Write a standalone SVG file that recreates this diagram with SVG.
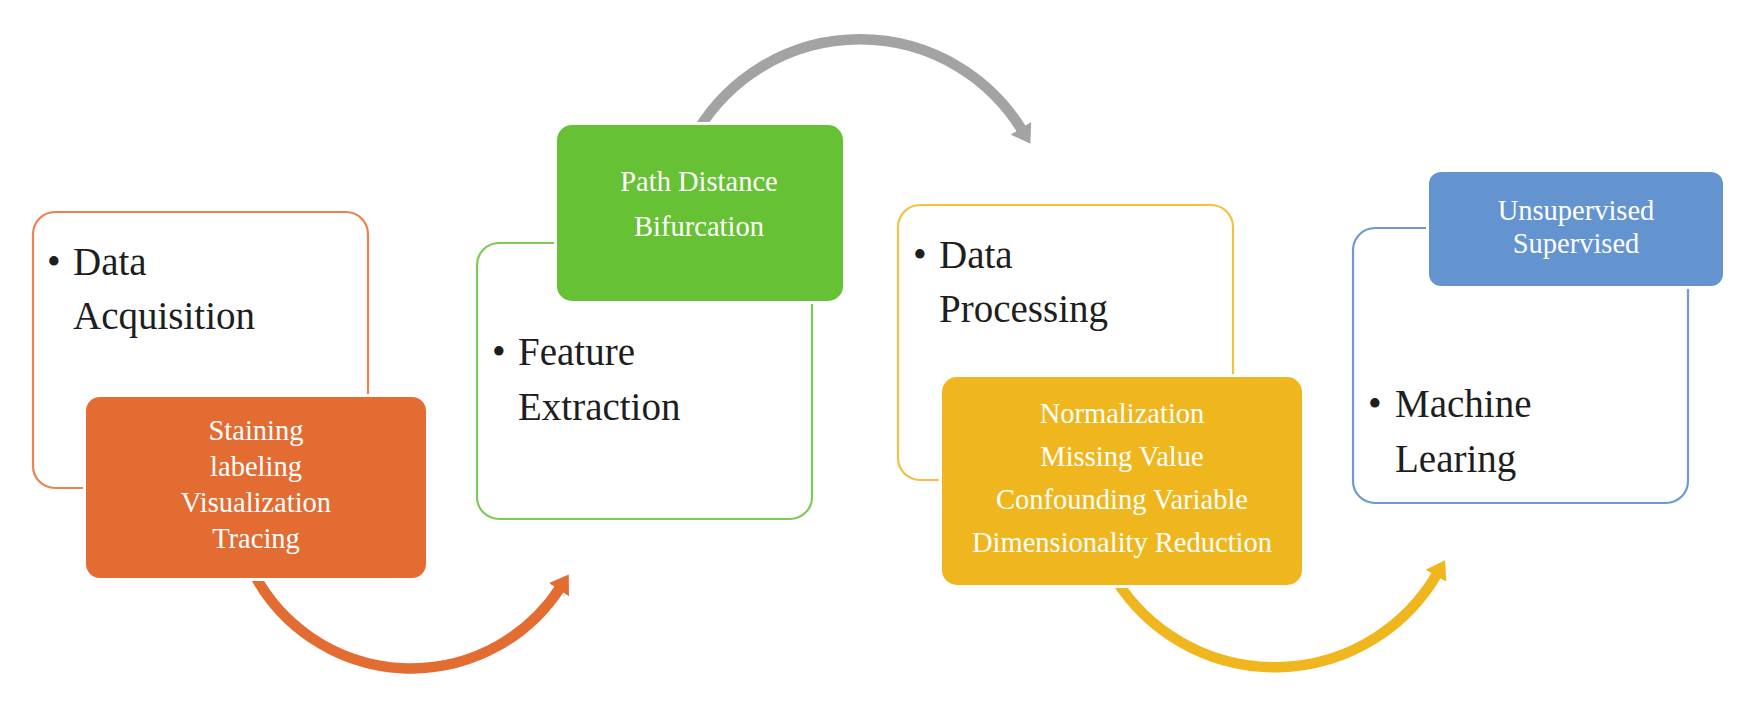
<svg xmlns="http://www.w3.org/2000/svg" width="1750" height="710" viewBox="0 0 1750 710">
  <style>
    .outline { fill: #ffffff; stroke-width: 2.2; }
    .fillbox { stroke: #ffffff; stroke-width: 6; paint-order: stroke; }
    .main { font-family: "Liberation Serif", "Times New Roman", serif; font-size: 39px; fill: #1e1e1e; }
    .sub { font-family: "Liberation Serif", "Times New Roman", serif; font-size: 28.5px; fill: #ffffff; text-anchor: middle; }
    .arc { fill: none; stroke-width: 10.5; }
  </style>
  <defs>
    <marker id="ah-orange" viewBox="0 0 18 24" refX="2" refY="12" markerWidth="18" markerHeight="24" markerUnits="userSpaceOnUse" orient="auto">
      <path d="M0,0 L18,12 L0,24 Z" fill="#E36C32"/>
    </marker>
    <marker id="ah-grey" viewBox="0 0 18 24" refX="2" refY="12" markerWidth="18" markerHeight="24" markerUnits="userSpaceOnUse" orient="auto">
      <path d="M0,0 L18,12 L0,24 Z" fill="#A3A3A3"/>
    </marker>
    <marker id="ah-yellow" viewBox="0 0 18 24" refX="2" refY="12" markerWidth="18" markerHeight="24" markerUnits="userSpaceOnUse" orient="auto">
      <path d="M0,0 L18,12 L0,24 Z" fill="#F0B61D"/>
    </marker>
  </defs>
  <rect width="1750" height="710" fill="#ffffff"/>

  <g id="connectors">
    <path class="arc" d="M 254 574 A 178 178 0 0 0 560 588" stroke="#E36C32" marker-end="url(#ah-orange)"/>
    <path class="arc" d="M 698 130 A 190 190 0 0 1 1022 130" stroke="#A3A3A3" marker-end="url(#ah-grey)"/>
    <path class="arc" d="M 1116 580 A 188 188 0 0 0 1437 574" stroke="#F0B61D" marker-end="url(#ah-yellow)"/>
  </g>

  <g id="node-data-acquisition">
    <rect class="outline" x="33" y="212" width="335" height="276" rx="22" stroke="#EC8250"/>
    <text class="main"><tspan x="47" y="275">•</tspan><tspan x="73" y="275">Data</tspan><tspan x="73" y="329">Acquisition</tspan></text>
    <rect class="fillbox" x="86" y="397" width="340" height="181" rx="14" fill="#E36C32"/>
    <text class="sub"><tspan x="256" y="440">Staining</tspan><tspan x="256" y="476">labeling</tspan><tspan x="256" y="512">Visualization</tspan><tspan x="256" y="548">Tracing</tspan></text>
  </g>

  <g id="node-feature-extraction">
    <rect class="outline" x="477" y="243" width="335" height="276" rx="22" stroke="#7ECB57"/>
    <text class="main"><tspan x="492" y="365">•</tspan><tspan x="518" y="365">Feature</tspan><tspan x="518" y="420">Extraction</tspan></text>
    <rect class="fillbox" x="557" y="125" width="286" height="176" rx="15" fill="#67C134"/>
    <text class="sub"><tspan x="699" y="191">Path Distance</tspan><tspan x="699" y="236">Bifurcation</tspan></text>
  </g>

  <g id="node-data-processing">
    <rect class="outline" x="898" y="205" width="335" height="275" rx="22" stroke="#F3C040"/>
    <text class="main"><tspan x="913" y="268">•</tspan><tspan x="939" y="268">Data</tspan><tspan x="939" y="322">Processing</tspan></text>
    <rect class="fillbox" x="942" y="377" width="360" height="208" rx="15" fill="#F0B61D"/>
    <text class="sub"><tspan x="1122" y="423">Normalization</tspan><tspan x="1122" y="466">Missing Value</tspan><tspan x="1122" y="509">Confounding Variable</tspan><tspan x="1122" y="552">Dimensionality Reduction</tspan></text>
  </g>

  <g id="node-machine-learning">
    <rect class="outline" x="1353" y="228" width="335" height="275" rx="22" stroke="#7099D3"/>
    <text class="main"><tspan x="1368" y="417">•</tspan><tspan x="1395" y="417">Machine</tspan><tspan x="1395" y="472">Learing</tspan></text>
    <rect class="fillbox" x="1429" y="172" width="294" height="114" rx="12" fill="#6394D0"/>
    <text class="sub"><tspan x="1576" y="220">Unsupervised</tspan><tspan x="1576" y="253">Supervised</tspan></text>
  </g>
</svg>
